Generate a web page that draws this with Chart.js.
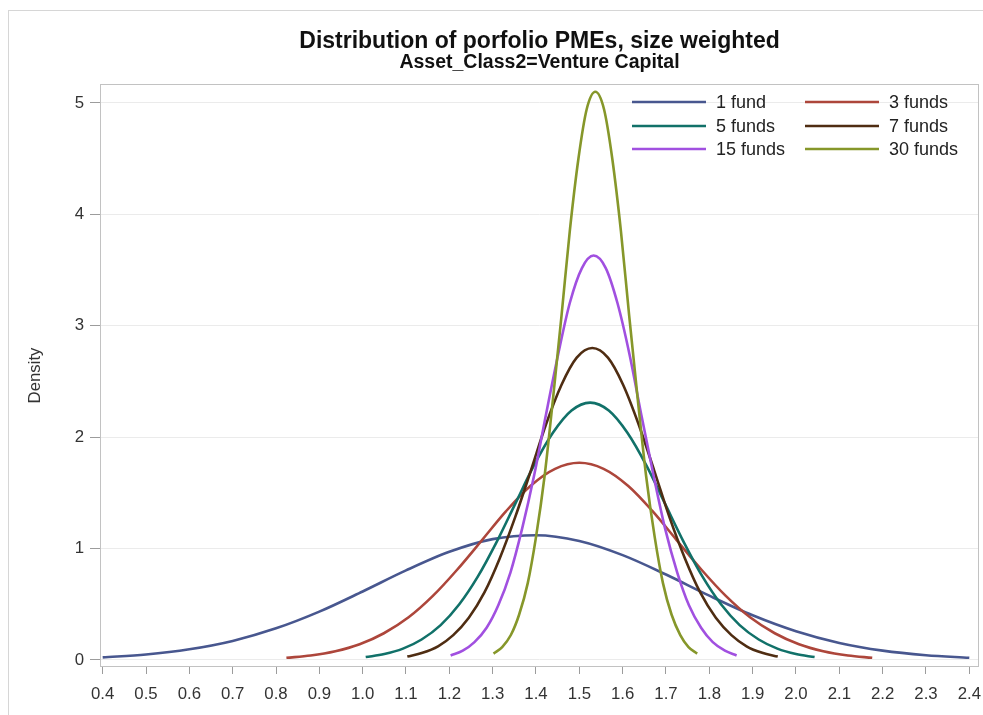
<!DOCTYPE html>
<html><head><meta charset="utf-8">
<script src="https://cdn.jsdelivr.net/npm/chart.js@4/dist/chart.umd.min.js"></script>
<style>
html,body{margin:0;padding:0;background:#fff;}
#wrap{position:relative;width:983px;height:715px;overflow:hidden;}
#frame{position:absolute;left:8px;top:10px;width:990px;height:720px;border:1px solid #d6d6d6;pointer-events:none;}
canvas{position:absolute;left:0;top:0;}
</style></head><body>
<div id="wrap"><canvas id="c" width="983" height="715"></canvas><div id="frame"></div></div>
<script>
const chartTitle = 'Distribution of porfolio PMEs, size weighted';
const chartSubtitle = 'Asset_Class2=Venture Capital';
const yAxisTitle = 'Density';
const seriesLabels = ['1 fund', '3 funds', '5 funds', '7 funds', '15 funds', '30 funds'];
const seriesColors = ['#48578f', '#ad463b', '#117169', '#4f2d12', '#a150e0', '#86972a'];
const xTicks = [0.4, 0.5, 0.6, 0.7, 0.8, 0.9, 1.0, 1.1, 1.2, 1.3, 1.4, 1.5, 1.6, 1.7, 1.8, 1.9, 2.0, 2.1, 2.2, 2.3, 2.4];
const yTicks = [0, 1, 2, 3, 4, 5];

const fund1X = [0.4, 0.5, 0.6, 0.7, 0.8, 0.9, 1.0, 1.1, 1.2, 1.3, 1.4, 1.5, 1.6, 1.7, 1.8, 1.9, 2.0, 2.1, 2.2, 2.3, 2.4];
const fund1Y = [0.023, 0.049, 0.096, 0.171, 0.284, 0.434, 0.615, 0.804, 0.971, 1.085, 1.120, 1.068, 0.941, 0.767, 0.577, 0.401, 0.258, 0.153, 0.084, 0.043, 0.020];

const fund3X = [0.824, 0.880, 0.937, 0.993, 1.049, 1.106, 1.162, 1.218, 1.275, 1.331, 1.387, 1.444, 1.500, 1.556, 1.613, 1.669, 1.725, 1.782, 1.838, 1.894, 1.951, 2.007, 2.063, 2.120, 2.176];
const fund3Y = [0.020, 0.040, 0.078, 0.141, 0.240, 0.383, 0.575, 0.810, 1.074, 1.336, 1.562, 1.716, 1.770, 1.716, 1.562, 1.336, 1.074, 0.810, 0.575, 0.383, 0.240, 0.141, 0.078, 0.040, 0.020];

const fund5X = [1.007, 1.050, 1.093, 1.136, 1.180, 1.223, 1.266, 1.309, 1.352, 1.395, 1.439, 1.482, 1.525, 1.568, 1.611, 1.655, 1.698, 1.741, 1.784, 1.827, 1.870, 1.914, 1.957, 2.000, 2.043];
const fund5Y = [0.026, 0.053, 0.102, 0.184, 0.313, 0.500, 0.750, 1.058, 1.401, 1.744, 2.039, 2.239, 2.310, 2.239, 2.039, 1.744, 1.401, 1.058, 0.750, 0.500, 0.313, 0.184, 0.102, 0.053, 0.026];

const fund7X = [1.103, 1.138, 1.174, 1.209, 1.245, 1.281, 1.316, 1.352, 1.388, 1.423, 1.459, 1.494, 1.530, 1.566, 1.601, 1.637, 1.673, 1.708, 1.744, 1.779, 1.815, 1.851, 1.886, 1.922, 1.958];
const fund7Y = [0.031, 0.064, 0.123, 0.223, 0.379, 0.606, 0.909, 1.282, 1.698, 2.114, 2.471, 2.714, 2.800, 2.714, 2.471, 2.114, 1.698, 1.282, 0.909, 0.606, 0.379, 0.223, 0.123, 0.064, 0.031];

const fund15X = [1.203, 1.231, 1.258, 1.286, 1.313, 1.341, 1.368, 1.396, 1.423, 1.451, 1.478, 1.506, 1.533, 1.561, 1.588, 1.616, 1.643, 1.671, 1.698, 1.726, 1.753, 1.781, 1.808, 1.836, 1.863];
const fund15Y = [0.040, 0.083, 0.160, 0.289, 0.491, 0.785, 1.179, 1.662, 2.202, 2.740, 3.204, 3.518, 3.630, 3.518, 3.204, 2.740, 2.202, 1.662, 1.179, 0.785, 0.491, 0.289, 0.160, 0.083, 0.040];

const fund30X = [1.302, 1.322, 1.342, 1.361, 1.381, 1.400, 1.420, 1.439, 1.459, 1.478, 1.498, 1.517, 1.537, 1.557, 1.576, 1.596, 1.615, 1.635, 1.654, 1.674, 1.693, 1.713, 1.733, 1.752, 1.772];
const fund30Y = [0.057, 0.116, 0.224, 0.406, 0.690, 1.103, 1.656, 2.335, 3.093, 3.850, 4.501, 4.943, 5.100, 4.943, 4.501, 3.850, 3.093, 2.335, 1.656, 1.103, 0.690, 0.406, 0.224, 0.116, 0.057];

const seriesX = [fund1X, fund3X, fund5X, fund7X, fund15X, fund30X];
const seriesY = [fund1Y, fund3Y, fund5Y, fund7Y, fund15Y, fund30Y];

const FONT = "'Liberation Sans', Arial, sans-serif";

const datasets = seriesLabels.map((label, i) => ({
  label,
  data: seriesX[i].map((x, j) => ({x, y: seriesY[i][j]})),
  borderColor: seriesColors[i],
  backgroundColor: seriesColors[i],
  borderWidth: 2.6,
  pointRadius: 0,
  fill: false,
  cubicInterpolationMode: 'monotone',
  order: seriesLabels.length - i
}));

const decor = {
  id: 'decor',
  beforeDatasetsDraw(chart) {
    const {ctx, chartArea: a} = chart;
    ctx.save();
    ctx.strokeStyle = '#c2c2c2';
    ctx.lineWidth = 1;
    ctx.strokeRect(Math.round(a.left) + 0.5, Math.round(a.top) + 0.5, Math.round(a.right - a.left) - 1, Math.round(a.bottom - a.top) - 1);
    ctx.restore();
  },
  afterDraw(chart) {
    const {ctx, chartArea: a} = chart;
    const cx = (a.left + a.right) / 2;
    ctx.save();
    ctx.textAlign = 'center';
    ctx.textBaseline = 'middle';
    ctx.fillStyle = '#111';
    ctx.font = 'bold 23px ' + FONT;
    ctx.fillText(chartTitle, cx, 42);
    ctx.font = 'bold 19.5px ' + FONT;
    ctx.fillText(chartSubtitle, cx, 63);
    // legend (two columns, inside the plot area at top right)
    const colSwatch = [a.right - 347, a.right - 174];
    const swLen = 74;
    const textGap = 10;
    const rowY = [a.top + 18, a.top + 42, a.top + 65];
    ctx.textAlign = 'left';
    ctx.font = '18px ' + FONT;
    chart.data.datasets.forEach((ds, i) => {
      const c = i % 2, r = Math.floor(i / 2);
      const x0 = colSwatch[c], y = rowY[r];
      ctx.strokeStyle = ds.borderColor;
      ctx.lineWidth = 2.6;
      ctx.beginPath();
      ctx.moveTo(x0, y);
      ctx.lineTo(x0 + swLen, y);
      ctx.stroke();
      ctx.fillStyle = '#222';
      ctx.fillText(ds.label, x0 + swLen + textGap, y + 1);
    });
    ctx.restore();
  }
};

new Chart(document.getElementById('c'), {
  type: 'line',
  data: {datasets},
  options: {
    responsive: false,
    animation: false,
    events: [],
    layout: {padding: {top: 84, right: 4, left: 0, bottom: 0}},
    plugins: {legend: {display: false}, tooltip: {enabled: false}, title: {display: false}},
    scales: {
      x: {
        type: 'linear',
        min: 0.3938,
        max: 2.4224,
        afterBuildTicks: s => { s.ticks = xTicks.map(v => ({value: v})); },
        afterFit: s => { s.height = 48; s.paddingLeft = 0; s.paddingRight = 0; },
        border: {display: false},
        grid: {drawOnChartArea: false, tickLength: 7, tickColor: '#9c9c9c', lineWidth: 1},
        ticks: {
          autoSkip: false, maxRotation: 0, padding: 10,
          color: '#333', font: {family: FONT, size: 16.8},
          callback: v => Number(v).toFixed(1)
        }
      },
      y: {
        type: 'linear',
        min: -0.063,
        max: 5.17,
        afterBuildTicks: s => { s.ticks = yTicks.map(v => ({value: v})); },
        afterFit: s => { s.width = 100; },
        border: {display: false},
        grid: {color: '#ebebeb', tickLength: 10, tickColor: '#9c9c9c', lineWidth: 1},
        ticks: {padding: 6, color: '#333', font: {family: FONT, size: 16.8}, callback: v => String(v)},
        title: {display: true, text: yAxisTitle, color: '#333', font: {family: FONT, size: 16.8}, padding: {top: 25, bottom: 0}}
      }
    }
  },
  plugins: [decor]
});
</script>
</body></html>
